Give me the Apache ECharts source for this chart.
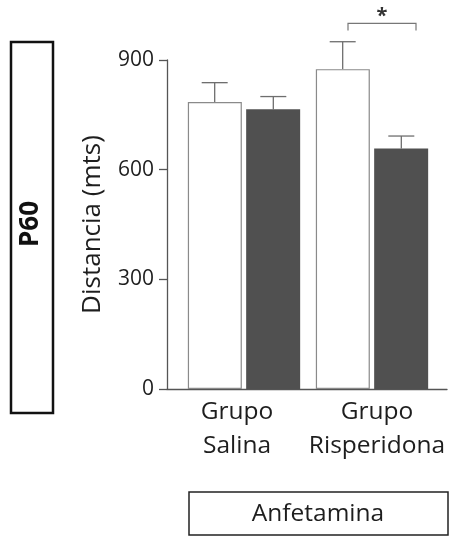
<!DOCTYPE html>
<html><head><meta charset="utf-8">
<script src="https://cdn.jsdelivr.net/npm/echarts@6/dist/echarts.min.js"></script>
<style>html,body{margin:0;padding:0;background:#fff}#c{width:454px;height:538px}</style>
</head><body><div id="c"></div>
<script>
const categories = ['Grupo\nSalina', 'Grupo\nRisperidona'];
const whiteValues = [785, 875];
const whiteErrTop = [838, 950];
const darkValues = [765, 658];
const darkErrTop = [800, 692];
const yTicks = [0, 300, 600, 900];
const sigLevel = 1000;
const FONT = '"Open Sans", sans-serif';

const chart = echarts.init(document.getElementById('c'), null, {renderer: 'canvas'});

function errRender(errTop, seriesOffset) {
  return function (params, api) {
    const i = params.dataIndex;
    const base = api.coord([i, api.value(1)]);
    const top = api.coord([i, errTop[i]]);
    const bw = api.size([1, 0])[0];
    const x = base[0] + seriesOffset * bw;
    return {
      type: 'group',
      children: [
        {type: 'line', shape: {x1: x, y1: base[1], x2: x, y2: top[1]}, style: {stroke: '#6e6e6e', lineWidth: 1.3}},
        {type: 'line', shape: {x1: x - 13, y1: top[1], x2: x + 13, y2: top[1]}, style: {stroke: '#6e6e6e', lineWidth: 1.3}}
      ]
    };
  };
}

const option = {
  animation: false,
  backgroundColor: '#fff',
  grid: [
    {left: 167, right: 7, top: 60, bottom: 149},
    {left: 180, right: 18, top: 60, bottom: 149}
  ],
  xAxis: [
    {type: 'category', gridIndex: 0, data: categories,
      axisLine: {show: true, lineStyle: {color: '#555', width: 1.3}},
      axisTick: {show: false},
      axisLabel: {interval: 0, fontFamily: FONT, fontSize: 24.5, color: '#1e1e1e', lineHeight: 34, margin: 6}},
    {type: 'category', gridIndex: 1, data: categories, show: false}
  ],
  yAxis: [
    {type: 'value', gridIndex: 0, min: 0, max: 900, interval: 300,
      name: 'Distancia (mts)', nameLocation: 'middle', nameGap: 61, nameRotate: 90,
      nameTextStyle: {fontFamily: FONT, fontSize: 26, color: '#1e1e1e'},
      axisLine: {show: true, lineStyle: {color: '#555', width: 1.3}},
      axisTick: {show: true, length: 8, lineStyle: {color: '#555', width: 1.3}},
      axisLabel: {fontFamily: FONT, fontSize: 21, color: '#1e1e1e', margin: 13,
        formatter: v => yTicks.includes(v) ? String(v) : ''},
      splitLine: {show: false}},
    {type: 'value', gridIndex: 1, min: 0, max: 900, interval: 300, show: false, splitLine: {show: false}}
  ],
  series: [
    {type: 'bar', xAxisIndex: 1, yAxisIndex: 1, data: whiteValues, barWidth: 54, barGap: '8%',
      itemStyle: {color: '#fff', borderColor: '#8a8a8a', borderWidth: 1.2}, z: 2},
    {type: 'bar', xAxisIndex: 1, yAxisIndex: 1, data: darkValues, barWidth: 54, barGap: '8%',
      itemStyle: {color: '#505050'}, z: 2},
    {type: 'custom', xAxisIndex: 1, yAxisIndex: 1, data: whiteValues.map((v, i) => [i, v]),
      renderItem: errRender(whiteErrTop, -0.229), clip: false, z: 1},
    {type: 'custom', xAxisIndex: 1, yAxisIndex: 1, data: darkValues.map((v, i) => [i, v]),
      renderItem: errRender(darkErrTop, 0.229), clip: false, z: 1},
    {type: 'custom', xAxisIndex: 1, yAxisIndex: 1, data: [[1, sigLevel]], clip: false,
      renderItem: function (params, api) {
        const p = api.coord([api.value(0), api.value(1)]);
        const x1 = p[0] - 24, x2 = p[0] + 44, y = p[1];
        return {type: 'group', children: [
          {type: 'polyline', shape: {points: [[x1, y + 7], [x1, y], [x2, y], [x2, y + 7]]}, style: {stroke: '#777', lineWidth: 1.2, fill: null}},
          {type: 'text', x: (x1 + x2) / 2, y: y - 7, style: {text: '*', font: 'bold 20px ' + FONT, fill: '#333', align: 'center', verticalAlign: 'middle'}}
        ]};
      }}
  ],
  graphic: [
    {type: 'rect', shape: {x: 11, y: 42, width: 42, height: 371}, style: {fill: '#fff', stroke: '#111', lineWidth: 2.5}},
    {type: 'text', x: 31, y: 224, rotation: Math.PI / 2, style: {text: 'P60', font: 'bold 26px ' + FONT, fill: '#111', align: 'center', verticalAlign: 'middle'}},
    {type: 'rect', shape: {x: 189, y: 492, width: 259, height: 43}, style: {fill: '#fff', stroke: '#222', lineWidth: 1.5}},
    {type: 'text', x: 318, y: 514, style: {text: 'Anfetamina', font: '24.5px ' + FONT, fill: '#1e1e1e', align: 'center', verticalAlign: 'middle'}}
  ]
};
chart.setOption(option);
</script></body></html>
